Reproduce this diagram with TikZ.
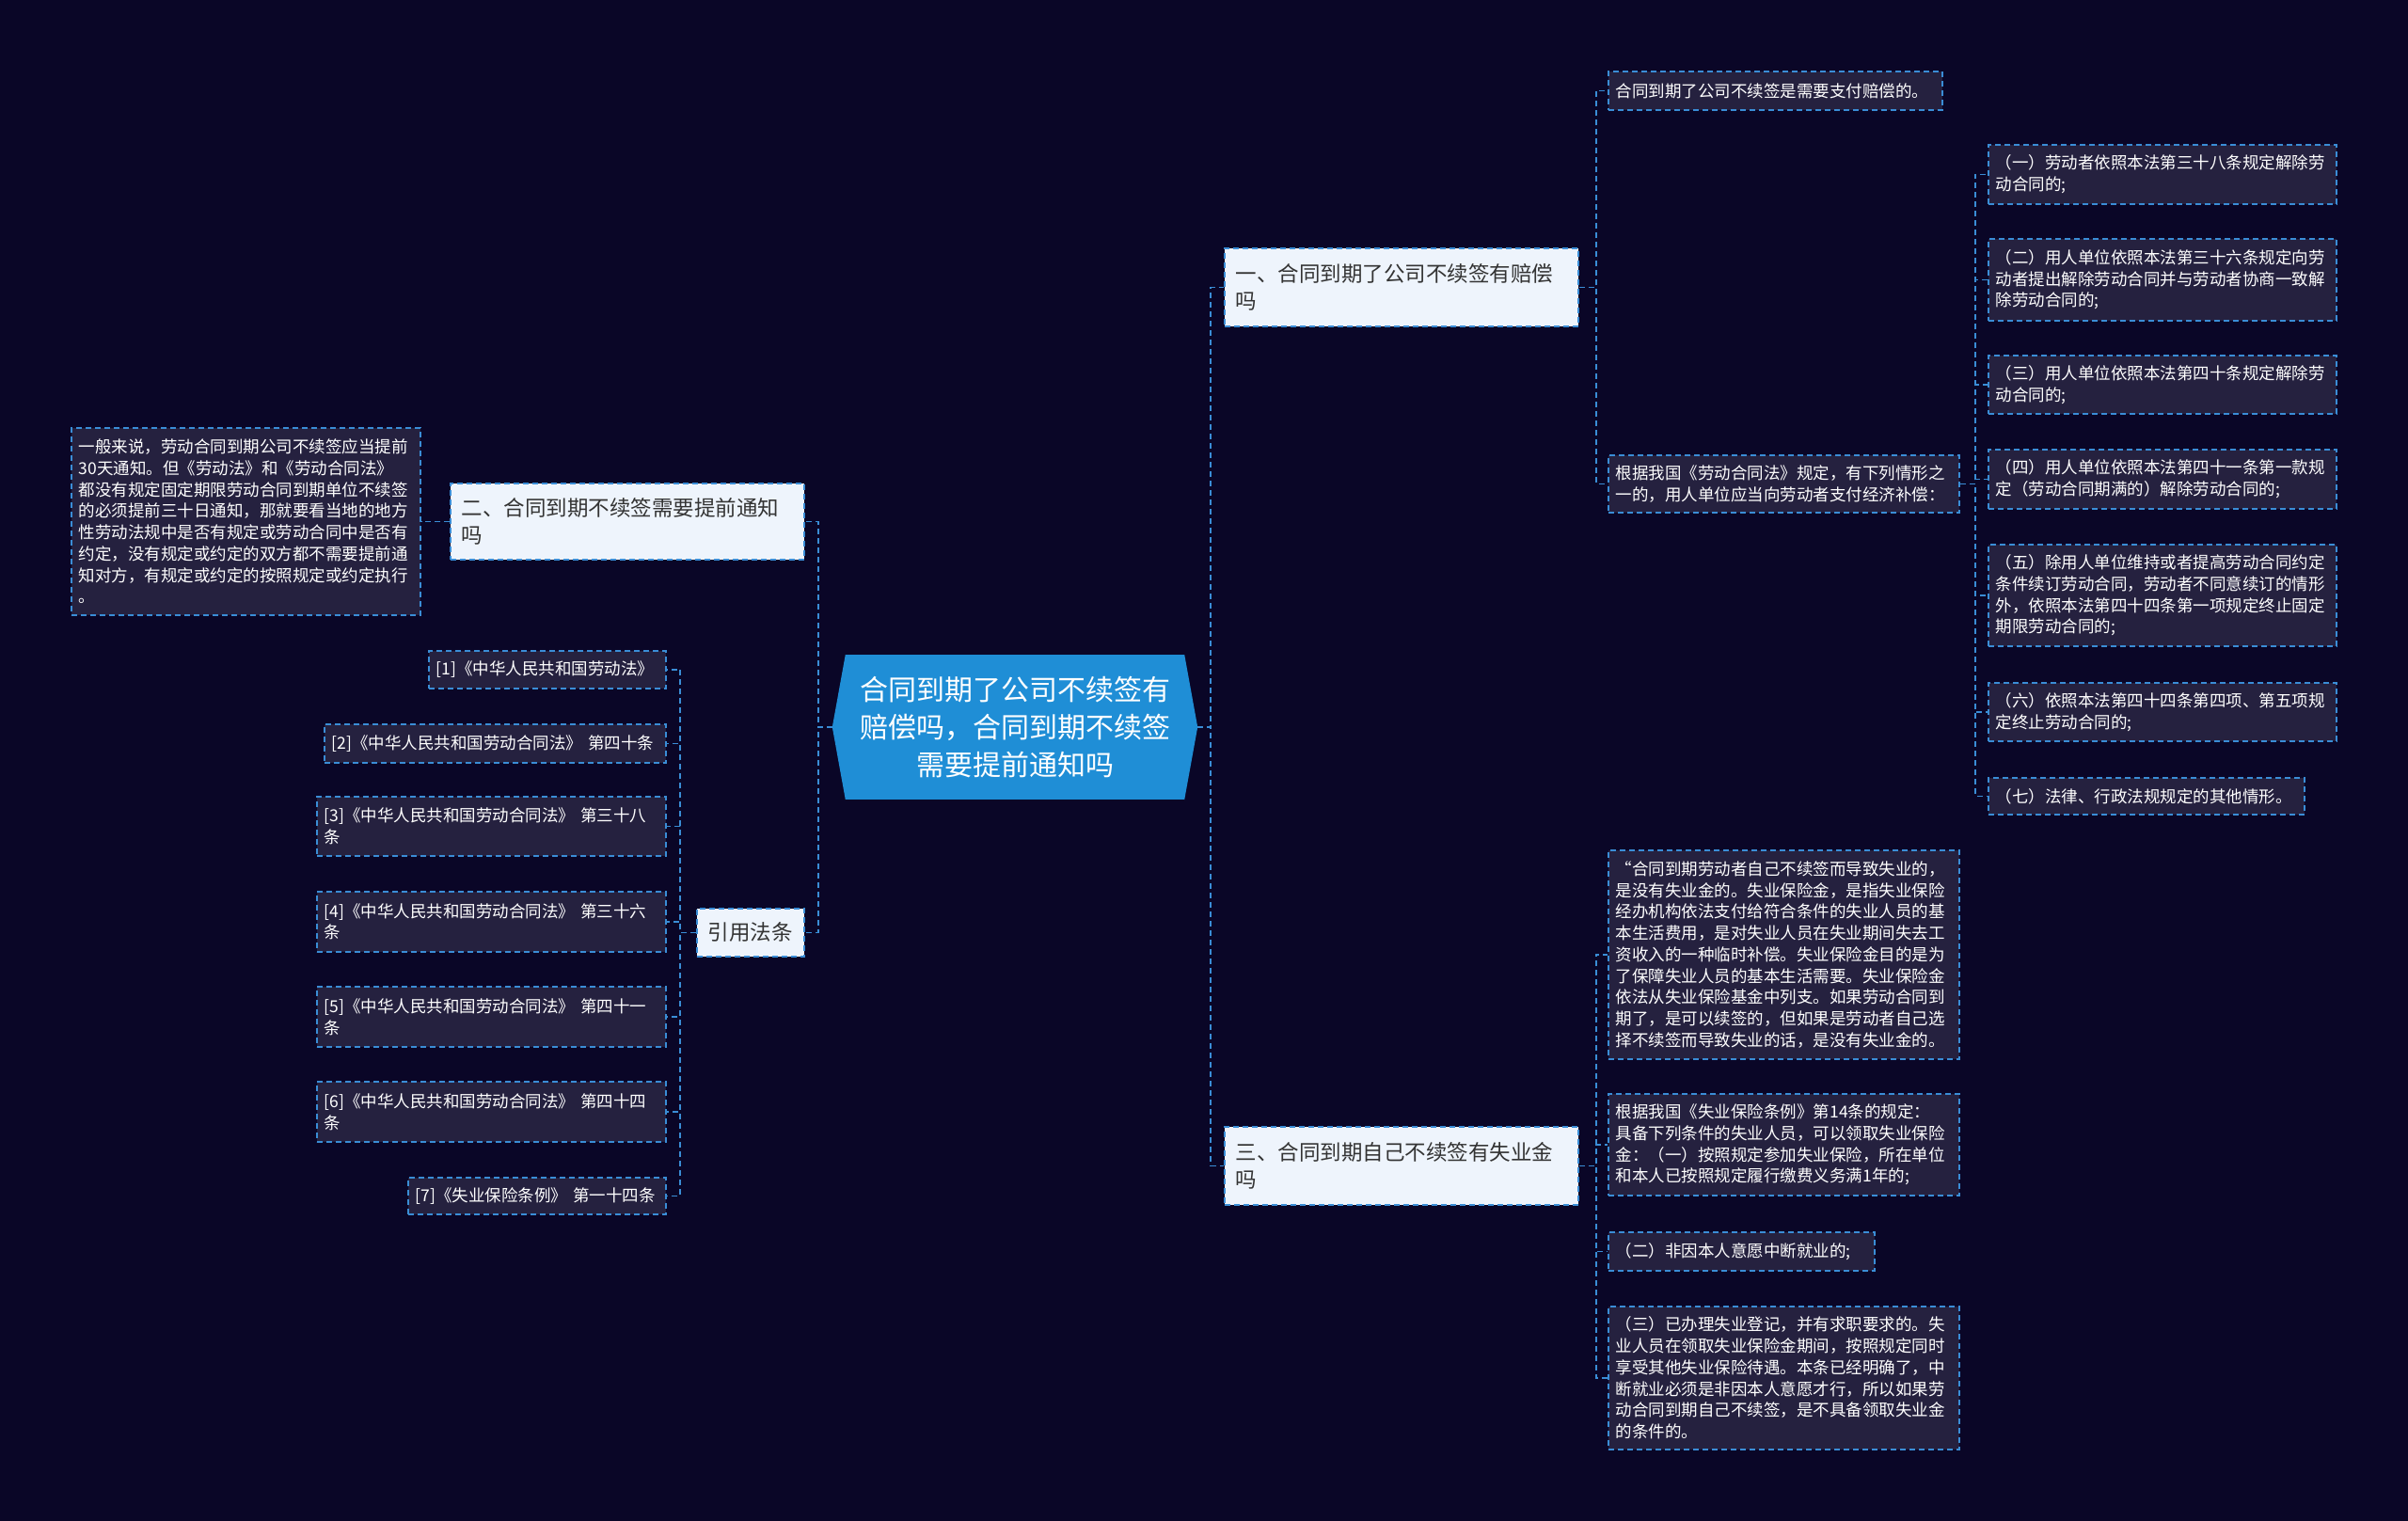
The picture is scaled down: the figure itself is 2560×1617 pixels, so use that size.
\documentclass[tikz,border=0pt]{standalone}
\usepackage{fontspec}
\setmainfont{Noto Sans CJK SC}
\XeTeXlinebreaklocale "zh"
\XeTeXlinebreakskip=0pt plus 1pt
\definecolor{bgc}{HTML}{0A0627}
\definecolor{leaff}{HTML}{25213F}
\definecolor{linec}{HTML}{3A8DD6}
\definecolor{lonef}{HTML}{EEF4FC}
\definecolor{lonet}{HTML}{333333}
\definecolor{cenf}{HTML}{1F8ED6}
\tikzset{
 conn/.style={draw=linec, line width=1.8pt, dash pattern=on 6pt off 4pt},
 leafbox/.style={draw=linec, line width=1.8pt, dash pattern=on 6pt off 4pt, fill=leaff, text=white, anchor=north west, align=left, inner xsep=8pt, inner ysep=3pt, font=\fontsize{17.5pt}{22.7pt}\selectfont},
 lonebox/.style={draw=linec, line width=1.8pt, dash pattern=on 6pt off 4pt, fill=lonef, text=lonet, anchor=north west, align=left, inner xsep=12pt, inner ysep=3pt, font=\fontsize{22.5pt}{29.4pt}\selectfont},
 cenbox/.style={fill=cenf, text=white, align=center, inner sep=0pt, font=\fontsize{30pt}{40pt}\selectfont},
}
\newcommand\leafbx[7]{\node[leafbox,minimum width=#4pt,minimum height=#5pt,text width=#6pt] (#1) at (#2,#3) {#7};}
\newcommand\lonebx[7]{\node[lonebox,minimum width=#4pt,minimum height=#5pt,text width=#6pt] (#1) at (#2,#3) {#7};}
\begin{document}
\begin{tikzpicture}[x=1pt,y=-1pt]
\fill[bgc] (0,0) rectangle (2560,1617);
\useasboundingbox (0,0) rectangle (2560,1617);

% centre
\node[cenbox, minimum width=360pt, minimum height=154pt] (c) at (1079,773) {合同到期了公司不续签有\\赔偿吗，合同到期不续签\\需要提前通知吗};
\coordinate (cl) at ([xshift=-14pt]c.west);
\coordinate (cr) at ([xshift=14pt]c.east);
\fill[cenf] (c.north west) -- (cl) -- (c.south west) -- cycle;
\fill[cenf] (c.north east) -- (cr) -- (c.south east) -- cycle;

% level one
\lonebx{n1}{1301}{263}{376}{83}{352}{一、合同到期了公司不续签有赔偿\\吗}
\lonebx{n2}{478}{513}{376}{81}{352}{二、合同到期不续签需要提前通知\\吗}
\lonebx{n3}{1301}{1197}{376}{83}{352}{三、合同到期自己不续签有失业金\\吗}
\node[lonebox, align=center, inner xsep=4pt, minimum width=114pt, minimum height=51pt] (ref) at (740,965) {引用法条};

% left detail
\leafbx{gen}{75}{454}{371}{199}{355}{一般来说，劳动合同到期公司不续签应当提前\\30天通知。但《劳动法》和《劳动合同法》\\都没有规定固定期限劳动合同到期单位不续签\\的必须提前三十日通知，那就要看当地的地方\\性劳动法规中是否有规定或劳动合同中是否有\\约定，没有规定或约定的双方都不需要提前通\\知对方，有规定或约定的按照规定或约定执行\\。}

% citations
\leafbx{c1}{455}{691}{252}{40}{236}{[1]《中华人民共和国劳动法》}
\leafbx{c2}{344}{769}{363}{41}{347}{[2]《中华人民共和国劳动合同法》 第四十条}
\leafbx{c3}{336}{846}{371}{63}{355}{[3]《中华人民共和国劳动合同法》 第三十八\\条}
\leafbx{c4}{336}{947}{371}{64}{355}{[4]《中华人民共和国劳动合同法》 第三十六\\条}
\leafbx{c5}{336}{1048}{371}{64}{355}{[5]《中华人民共和国劳动合同法》 第四十一\\条}
\leafbx{c6}{336}{1149}{371}{64}{355}{[6]《中华人民共和国劳动合同法》 第四十四\\条}
\leafbx{c7}{433}{1251}{274}{39}{258}{[7]《失业保险条例》 第一十四条}

% right of n1
\leafbx{r0}{1709}{75}{355}{41}{339}{合同到期了公司不续签是需要支付赔偿的。}
\leafbx{gj}{1709}{483}{373}{61}{357}{根据我国《劳动合同法》规定，有下列情形之\\一的，用人单位应当向劳动者支付经济补偿：}

\leafbx{a1}{2113}{153}{370}{63}{354}{（一）劳动者依照本法第三十八条规定解除劳\\动合同的;}
\leafbx{a2}{2113}{253}{370}{87}{354}{（二）用人单位依照本法第三十六条规定向劳\\动者提出解除劳动合同并与劳动者协商一致解\\除劳动合同的;}
\leafbx{a3}{2113}{377}{370}{62}{354}{（三）用人单位依照本法第四十条规定解除劳\\动合同的;}
\leafbx{a4}{2113}{477}{370}{63}{354}{（四）用人单位依照本法第四十一条第一款规\\定（劳动合同期满的）解除劳动合同的;}
\leafbx{a5}{2113}{578}{370}{108}{354}{（五）除用人单位维持或者提高劳动合同约定\\条件续订劳动合同，劳动者不同意续订的情形\\外，依照本法第四十四条第一项规定终止固定\\期限劳动合同的;}
\leafbx{a6}{2113}{725}{370}{62}{354}{（六）依照本法第四十四条第四项、第五项规\\定终止劳动合同的;}
\leafbx{a7}{2113}{826}{336}{39}{320}{（七）法律、行政法规规定的其他情形。}

% right of n3
\leafbx{s1}{1709}{903}{373}{222}{357}{“合同到期劳动者自己不续签而导致失业的，\\是没有失业金的。失业保险金，是指失业保险\\经办机构依法支付给符合条件的失业人员的基\\本生活费用，是对失业人员在失业期间失去工\\资收入的一种临时补偿。失业保险金目的是为\\了保障失业人员的基本生活需要。失业保险金\\依法从失业保险基金中列支。如果劳动合同到\\期了，是可以续签的，但如果是劳动者自己选\\择不续签而导致失业的话，是没有失业金的。}
\leafbx{s2}{1709}{1162}{373}{108}{357}{根据我国《失业保险条例》第14条的规定：\\具备下列条件的失业人员，可以领取失业保险\\金：（一）按照规定参加失业保险，所在单位\\和本人已按照规定履行缴费义务满1年的;}
\leafbx{s3}{1709}{1309}{283}{41}{267}{（二）非因本人意愿中断就业的;}
\leafbx{s4}{1709}{1388}{373}{152}{357}{（三）已办理失业登记，并有求职要求的。失\\业人员在领取失业保险金期间，按照规定同时\\享受其他失业保险待遇。本条已经明确了，中\\断就业必须是非因本人意愿才行，所以如果劳\\动合同到期自己不续签，是不具备领取失业金\\的条件的。}

% connectors
\draw[conn] (cl) -- ++(-15,0) |- (n2.east);
\draw[conn] (cl) -- ++(-15,0) |- (ref.east);
\draw[conn] (cr) -- ++(14,0) |- (n1.west);
\draw[conn] (cr) -- ++(14,0) |- (n3.west);
\draw[conn] (n2.west) -- (gen.east);
\foreach \k in {c1,c2,c3,c4,c5,c6,c7} {\draw[conn] (ref.west) -- ++(-17,0) |- (\k.east);}
\foreach \k in {r0,gj} {\draw[conn] (n1.east) -- ++(18,0) |- (\k.west);}
\foreach \k in {a1,a2,a3,a4,a5,a6,a7} {\draw[conn] (gj.east) -- ++(16,0) |- (\k.west);}
\foreach \k in {s1,s2,s3,s4} {\draw[conn] (n3.east) -- ++(18,0) |- (\k.west);}
\end{tikzpicture}
\end{document}
